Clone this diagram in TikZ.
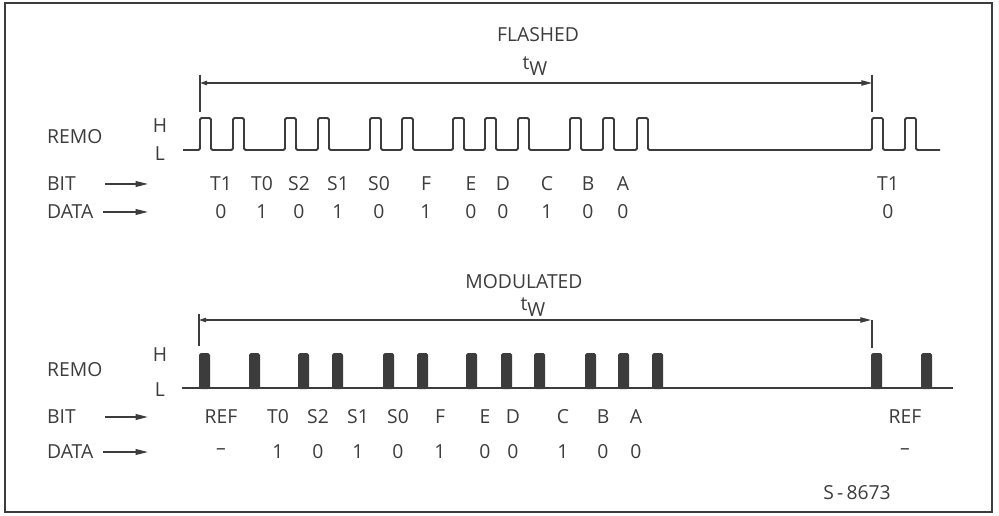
\documentclass[tikz,border=0pt]{standalone}
\usepackage{fontspec}
\setmainfont{Open Sans}
\usetikzlibrary{arrows.meta,positioning}
\definecolor{ink}{RGB}{60,60,60}

\begin{document}
\begin{tikzpicture}[x=0.02cm,y=-0.02cm,
  lbl/.style={font=\fontsize{11}{13}\selectfont,text=ink,inner sep=1pt},
  sig/.style={draw=ink,line width=1.1pt,line join=round,rounded corners=0.8pt},
  bar/.style={fill=ink,rounded corners=1pt},
  dim/.style={draw=ink,line width=0.7pt},
  arr/.style={-{Triangle[length=7pt,width=3.2pt]},draw=ink,line width=0.8pt}]
  \useasboundingbox (0,0) rectangle (999,516);
  \draw[ink,line width=0.8pt] (5,3) rectangle (992,512);

  % flashed
  \node[lbl] (flTitle) at (538,35) {FLASHED};
  \node[lbl] (flTw) at (535,66) {t\raisebox{-3pt}{W}};
  \coordinate (flTwL) at (200,83);
  \coordinate (flTwR) at (872,83);
  \draw[dim,{Triangle[length=4pt,width=2.5pt]}-{Triangle[length=6pt,width=3pt]}] (flTwL) -- (flTwR);
  \draw[dim] (200,75) -- (200,112);
  \draw[dim] (872,75) -- (872,112);
  \node[lbl,anchor=west] (flRemo) at (45,137) {REMO};
  \node[lbl] (flH) at (160,126) {H};
  \node[lbl] (flL) at (160,154) {L};
  \draw[sig] (183,150) foreach \p in {200,233,285,318,370,402,453,485,518,570,603,637,872,905}
    { -- (\p,150) -- (\p,118) -- (\p+11,118) -- (\p+11,150) } -- (940,150);
  \node[lbl,anchor=west] (flBit) at (45,184) {BIT};
  \node[lbl,anchor=west] (flData) at (45,212) {DATA};
  \coordinate (flBitE) at (148,184);
  \coordinate (flDataE) at (148,212);
  \draw[arr] ([xshift=0.55cm]flBit.east) -- (flBitE);
  \draw[arr] ([xshift=0.15cm]flData.east) -- (flDataE);
  \foreach \x/\b/\d [count=\i] in {221/T1/0,262/T0/1,299/S2/0,338/S1/1,379/S0/0,426/F/1,
      471/E/0,503/D/0,547/C/1,588/B/0,623/A/0,888/T1/0}
    { \node[lbl] (flb\i) at (\x,184) {\b};
      \node[lbl] (fld\i) at (\x,212) {\d}; }

  % modulated
  \node[lbl] (moTitle) at (524,282) {MODULATED};
  \node[lbl] (moTw) at (533,307) {t\raisebox{-3pt}{W}};
  \coordinate (moTwL) at (199,320);
  \coordinate (moTwR) at (871,320);
  \draw[dim,{Triangle[length=4pt,width=2.5pt]}-{Triangle[length=6pt,width=3pt]}] (moTwL) -- (moTwR);
  \draw[dim] (199,314) -- (199,346);
  \draw[dim] (872,320) -- (872,348);
  \node[lbl,anchor=west] (moRemo) at (45,370) {REMO};
  \node[lbl] (moH) at (160,355) {H};
  \node[lbl] (moL) at (160,390) {L};
  \draw[sig] (182,388) -- (953,388);
  \foreach \p in {199,249,298,332,383,417,466,501,534,585,618,652,871,921}
    \fill[bar] (\p,389) rectangle (\p+11,353);
  \node[lbl,anchor=west] (moBit) at (45,417) {BIT};
  \node[lbl,anchor=west] (moData) at (45,452) {DATA};
  \coordinate (moBitE) at (148,417);
  \coordinate (moDataE) at (148,452);
  \draw[arr] ([xshift=0.55cm]moBit.east) -- (moBitE);
  \draw[arr] ([xshift=0.15cm]moData.east) -- (moDataE);
  \foreach \x/\b/\d [count=\i] in {221/REF/--,278/T0/1,318/S2/0,358/S1/1,398/S0/0,440/F/1,
      485/E/0,513/D/0,563/C/1,603/B/0,636/A/0,905/REF/--}
    { \node[lbl] (mob\i) at (\x,417) {\b};
      \node[lbl] (mod\i) at (\x,452) {\d}; }
  \node[lbl] (figNo) at (857,493) {S\,-\,8673};
\end{tikzpicture}
\end{document}
